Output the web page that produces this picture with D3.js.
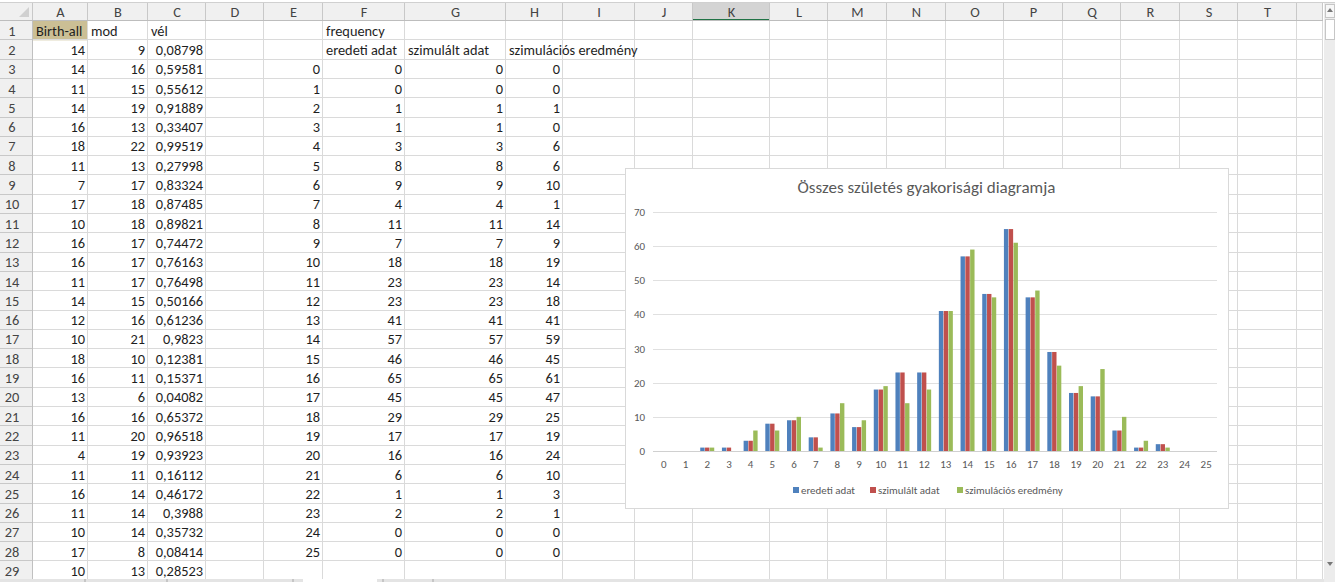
<!DOCTYPE html>
<html><head><meta charset="utf-8">
<script src="https://cdn.jsdelivr.net/npm/d3@7"></script>
<style>html,body{margin:0;padding:0;background:#fff;overflow:hidden}</style>
</head><body><svg id="s" width="1335" height="582"></svg>
<script>
// ---------- DATA ----------
const colLetters = ["A","B","C","D","E","F","G","H","I","J","K","L","M","N","O","P","Q","R","S","T"];
const birthAll = [14,14,11,14,16,18,11,7,17,10,16,16,11,14,12,10,18,16,13,16,11,4,11,16,11,10,17,10];
const modCol   = [9,16,15,19,13,22,13,17,18,18,17,17,17,15,16,21,10,11,6,16,20,19,11,14,14,14,8,13];
const velCol   = ["0,08798","0,59581","0,55612","0,91889","0,33407","0,99519","0,27998","0,83324","0,87485","0,89821","0,74472","0,76163","0,76498","0,50166","0,61236","0,9823","0,12381","0,15371","0,04082","0,65372","0,96518","0,93923","0,16112","0,46172","0,3988","0,35732","0,08414","0,28523"];
const categories = [0,1,2,3,4,5,6,7,8,9,10,11,12,13,14,15,16,17,18,19,20,21,22,23,24,25];
const eredeti     = [0,0,1,1,3,8,9,4,11,7,18,23,23,41,57,46,65,45,29,17,16,6,1,2,0,0];
const szimulalt   = [0,0,1,1,3,8,9,4,11,7,18,23,23,41,57,46,65,45,29,17,16,6,1,2,0,0];
const szimulacios = [0,0,1,0,6,6,10,1,14,9,19,14,18,41,59,45,61,47,25,19,24,10,3,1,0,0];
const seriesNames = ["eredeti adat","szimulált adat","szimulációs eredmény"];
const yTicks = [0,10,20,30,40,50,60,70];
const chartTitle = "Összes születés gyakorisági diagramja";
const headerA = ["Birth-all","mod","vél"];

// ---------- LAYOUT ----------
const svg = d3.select("#s");
const FONT = "Carlito, Calibri, Lato, 'Open Sans', sans-serif";
const colEdges = [33,88,148,206,264,323,405,506,563,635,693,770,828,887,946,1004,1063,1121,1180,1238,1297,1323];
const rowHeadX0 = 0;
const headTop = 3, headH = 18, rowH = 19.3, nRows = 29;
const rowTop = i => headTop + headH + (i-1)*rowH;  // i = 1..29
const gridRight = 1323;
const gridBottom = Math.min(579, rowTop(nRows+1));

function fitSize(text, targetW){
  const t = svg.append("text").attr("font-family",FONT).attr("font-size",100).text(text);
  const w = t.node().getComputedTextLength(); t.remove();
  return 100*targetW/w;
}
const cellFS = fitSize("eredeti adat", 71);

// header background
svg.append("rect").attr("x",rowHeadX0).attr("y",headTop).attr("width",gridRight-rowHeadX0).attr("height",headH).attr("fill","#f0f0f0");
svg.append("rect").attr("x",rowHeadX0).attr("y",headTop).attr("width",33-rowHeadX0).attr("height",gridBottom-headTop).attr("fill","#f0f0f0");
svg.append("rect").attr("x",colEdges[10]).attr("y",headTop).attr("width",colEdges[11]-colEdges[10]).attr("height",headH).attr("fill","#d4d4d4");
svg.append("line").attr("x1",colEdges[10]).attr("x2",colEdges[11]).attr("y1",headTop+headH-1).attr("y2",headTop+headH-1).attr("stroke","#217346").attr("stroke-width",2);
svg.append("line").attr("x1",0).attr("x2",1335).attr("y1",headTop-0.5).attr("y2",headTop-0.5).attr("stroke","#d0d0d0");
svg.append("rect").attr("x",colEdges[0]).attr("y",rowTop(1)).attr("width",colEdges[1]-colEdges[0]).attr("height",rowH).attr("fill","#cbbf95");
svg.append("path").attr("d",`M${29},${headTop+4} L${29},${headTop+14} L${19},${headTop+14} Z`).attr("fill","#d0d0d0");

const g = svg.append("g");
for(let i=1;i<=nRows+1;i++){
  const yy = Math.round(rowTop(i))-0.5;
  if(yy>gridBottom) continue;
  g.append("line").attr("x1",33).attr("x2",gridRight).attr("y1",yy).attr("y2",yy).attr("stroke","#dadada");
  g.append("line").attr("x1",rowHeadX0).attr("x2",33).attr("y1",yy).attr("y2",yy).attr("stroke","#c8c8c8");
}
colEdges.forEach((x,i)=>{
  g.append("line").attr("x1",x-0.5).attr("x2",x-0.5).attr("y1",headTop+headH).attr("y2",gridBottom).attr("stroke", i===0?"#c0c0c0":"#dadada");
  g.append("line").attr("x1",x-0.5).attr("x2",x-0.5).attr("y1",headTop).attr("y2",headTop+headH).attr("stroke","#c8c8c8");
});
svg.append("line").attr("x1",rowHeadX0).attr("x2",gridRight).attr("y1",headTop+headH-0.5).attr("y2",headTop+headH-0.5).attr("stroke","#bdbdbd");

colLetters.forEach((c,i)=>{
  svg.append("text").attr("x",(colEdges[i]+colEdges[i+1])/2).attr("y",headTop+headH/2).attr("dy","0.35em")
    .attr("text-anchor","middle").attr("font-family",FONT).attr("font-size",cellFS).attr("fill","#444").text(c);
});
for(let i=1;i<=nRows;i++){
  svg.append("text").attr("x",12).attr("y",rowTop(i)+rowH/2).attr("dy","0.35em")
    .attr("text-anchor","middle").attr("font-family",FONT).attr("font-size",cellFS).attr("fill","#444").text(i);
}

function cell(colIdx,row,text,align){
  const x0=colEdges[colIdx], x1=colEdges[colIdx+1];
  svg.append("text").attr("x", align==="right"? x1-3 : x0+3).attr("y",rowTop(row)+rowH/2).attr("dy","0.35em")
   .attr("text-anchor", align==="right"?"end":"start").attr("font-family",FONT).attr("font-size",cellFS).attr("fill","#1e1e1e").text(text);
}
headerA.forEach((h,i)=>cell(i,1,h,"left"));
birthAll.forEach((v,i)=>cell(0,i+2,v,"right"));
modCol.forEach((v,i)=>cell(1,i+2,v,"right"));
velCol.forEach((v,i)=>cell(2,i+2,v,"right"));
cell(5,1,"frequency","left");
cell(5,2,seriesNames[0],"left");
cell(6,2,seriesNames[1],"left");
cell(7,2,seriesNames[2],"left");
categories.forEach((v,i)=>{
  cell(4,i+3,v,"right");
  cell(5,i+3,eredeti[i],"right");
  cell(6,i+3,szimulalt[i],"right");
  cell(7,i+3,szimulacios[i],"right");
});

// scrollbar
svg.append("rect").attr("x",1324).attr("y",headTop).attr("width",11).attr("height",582-headTop).attr("fill","#ececec");
svg.append("rect").attr("x",1325.5).attr("y",headTop+1.5).attr("width",9).attr("height",13).attr("fill","#f7f7f7").attr("stroke","#c6c6c6");
svg.append("path").attr("d","M1327,12 L1330,8 L1333,12 Z").attr("fill","#777");
svg.append("rect").attr("x",1325.5).attr("y",headTop+16.5).attr("width",9).attr("height",20).attr("fill","#fff").attr("stroke","#c6c6c6");
svg.append("path").attr("d","M1327,562 L1330,566 L1333,562 Z").attr("fill","#777");

// sheet tabs
svg.append("rect").attr("x",0).attr("y",gridBottom).attr("width",1324).attr("height",582-gridBottom).attr("fill","#e4e4e4");
svg.append("rect").attr("x",303).attr("y",gridBottom).attr("width",74).attr("height",582-gridBottom).attr("fill","#fff");
[85,167,293,383,433].forEach(x=>svg.append("line").attr("x1",x).attr("x2",x).attr("y1",gridBottom).attr("y2",582).attr("stroke","#a8a8a8"));

// ---------- CHART ----------
const cx0=625, cx1=1228, cy0=168, cy1=508;
svg.append("rect").attr("x",cx0+0.5).attr("y",cy0+0.5).attr("width",cx1-cx0).attr("height",cy1-cy0).attr("fill","#fff").attr("stroke","#d9d9d9");

const titleFS = fitSize(chartTitle, 258);
svg.append("text").attr("x",(cx0+cx1)/2).attr("y",187).attr("dy","0.35em").attr("text-anchor","middle")
  .attr("font-family",FONT).attr("font-size",titleFS).attr("fill","#595959").text(chartTitle);

const x = d3.scaleBand().domain(categories).range([653,1217]).paddingInner(0).paddingOuter(0);
const y = d3.scaleLinear().domain([0,70]).range([451,212]);
const axFS = fitSize("eredeti adat", 54);

svg.append("g").selectAll("line").data(yTicks).join("line")
  .attr("x1",653).attr("x2",1217).attr("y1",d=>Math.round(y(d))+0.5).attr("y2",d=>Math.round(y(d))+0.5)
  .attr("stroke",d=>d===0?"#d0d0d0":"#e0e0e0");

const yAx = svg.append("g").attr("transform","translate(645,0)")
  .call(d3.axisLeft(y).tickValues(yTicks).tickSize(0).tickPadding(0));
yAx.select(".domain").remove();
yAx.selectAll("text").attr("font-family",FONT).attr("font-size",axFS).attr("fill","#595959");

const xAx = svg.append("g").attr("transform","translate(0,460)")
  .call(d3.axisBottom(x).tickSize(0).tickPadding(0));
xAx.select(".domain").remove();
xAx.selectAll("text").attr("font-family",FONT).attr("font-size",axFS).attr("fill","#595959");

const colors = ["#4f81bd","#c0504d","#9bbb59"];
const seriesData = [eredeti, szimulalt, szimulacios];
const bw = 4.4, step = 4.8;
seriesData.forEach((ser,si)=>{
  svg.append("g").selectAll("rect").data(categories).join("rect")
    .attr("x",d=>x(d)+x.bandwidth()/2 - 1.5*step + si*step + (step-bw)/2)
    .attr("width",bw)
    .attr("y",(d,i)=>y(ser[i]))
    .attr("height",(d,i)=>y(0)-y(ser[i]))
    .attr("fill",colors[si]);
});

const legX = [793, 870, 957];
seriesNames.forEach((n,i)=>{
  svg.append("rect").attr("x",legX[i]).attr("y",487).attr("width",6).attr("height",6).attr("fill",colors[i]);
  svg.append("text").attr("x",legX[i]+8).attr("y",490).attr("dy","0.35em").attr("font-family",FONT)
    .attr("font-size",axFS).attr("fill","#595959").text(n);
});
</script></body></html>
